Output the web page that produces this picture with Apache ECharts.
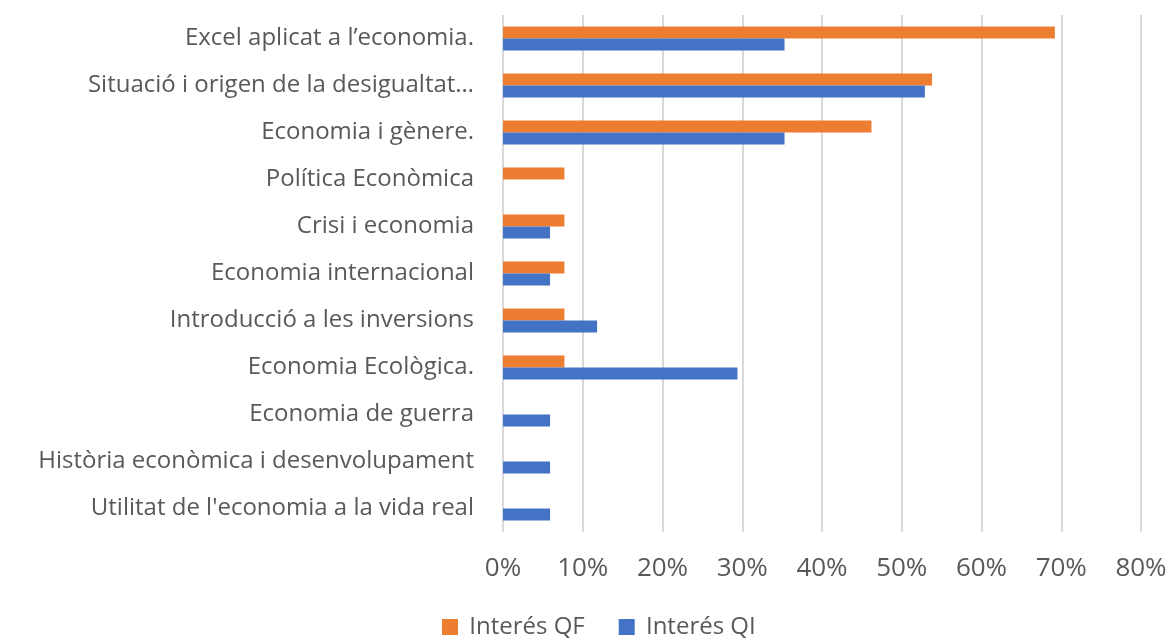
<!DOCTYPE html>
<html>
<head>
<meta charset="utf-8">
<script src="https://cdn.jsdelivr.net/npm/echarts@6/dist/echarts.min.js"></script>
<style>
html,body{margin:0;padding:0;background:#fff;}
#chart{width:1174px;height:639px;}
</style>
</head>
<body>
<div id="chart"></div>
<script>
const categories = [
  "Excel aplicat a l’economia.",
  "Situació i origen de la desigualtat…",
  "Economia i gènere.",
  "Política Econòmica",
  "Crisi i economia",
  "Economia internacional",
  "Introducció a les inversions",
  "Economia Ecològica.",
  "Economia de guerra",
  "Història econòmica i desenvolupament",
  "Utilitat de l'economia a la vida real"
];
const interesQF = [69.2, 53.8, 46.2, 7.7, 7.7, 7.7, 7.7, 7.7, 0, 0, 0];
const interesQI = [35.3, 52.9, 35.3, 0, 5.9, 5.9, 11.8, 29.4, 5.9, 5.9, 5.9];
const seriesNames = ["Interés QF", "Interés QI"];

const FONT = "Open Sans";
const TEXT = "#595959";
const chart = echarts.init(document.getElementById('chart'));
chart.setOption({
  animation: false,
  backgroundColor: '#ffffff',
  grid: { left: 503, right: 33, top: 15, bottom: 107, containLabel: false },
  legend: {
    top: 615,
    left: 442,
    icon: 'rect',
    itemWidth: 16,
    itemHeight: 16,
    itemGap: 34,
    padding: 0,
    itemStyle: { borderWidth: 0 },
    textStyle: { fontFamily: FONT, fontSize: 24, color: TEXT },
    formatter: function (name) { return ' ' + name; },
    data: seriesNames
  },
  xAxis: {
    type: 'value',
    min: 0, max: 80, interval: 10,
    axisLine: { show: false },
    axisTick: { show: false },
    axisLabel: { formatter: '{value}%', fontFamily: FONT, fontSize: 26, color: TEXT, margin: 24 },
    splitLine: { show: true, lineStyle: { color: '#d9d9d9', width: 2 } }
  },
  yAxis: {
    type: 'category',
    inverse: true,
    data: categories,
    axisLine: { show: false },
    axisTick: { show: false },
    axisLabel: { fontFamily: FONT, fontSize: 24, color: TEXT, margin: 29 }
  },
  series: [
    { name: seriesNames[0], type: 'bar', data: interesQF, barWidth: 12, barGap: '0%', itemStyle: { color: '#ED7D31' } },
    { name: seriesNames[1], type: 'bar', data: interesQI, barWidth: 12, barGap: '0%', itemStyle: { color: '#4472C4' } }
  ]
});
</script>
</body>
</html>
